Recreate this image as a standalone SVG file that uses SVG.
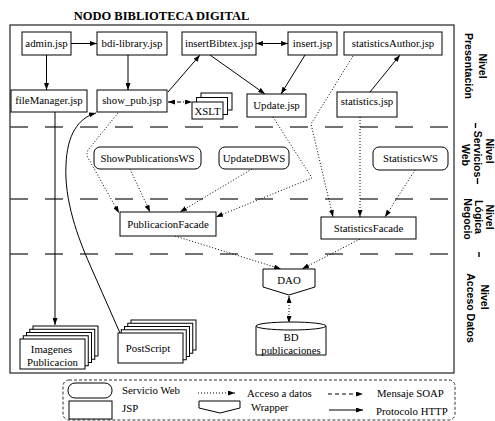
<svg xmlns="http://www.w3.org/2000/svg" width="495" height="421" viewBox="0 0 495 421">
<style>
.n{fill:#fff;stroke:#000;stroke-width:1}
.t{font-family:"Liberation Serif","Times New Roman",serif;font-size:10.8px;fill:#000;text-anchor:middle}
.lt{font-family:"Liberation Serif","Times New Roman",serif;font-size:10.8px;fill:#000}
.lvl{font-family:"Liberation Sans",Arial,sans-serif;font-size:10.5px;font-weight:bold;fill:#000;text-anchor:middle}
.sep{stroke:#444;stroke-width:1.4;stroke-dasharray:18 17;fill:none}
.s{stroke:#000;stroke-width:1;fill:none}
.d{stroke:#000;stroke-width:1;fill:none;stroke-dasharray:1 2}
.a{marker-end:url(#ah)}
.b{marker-start:url(#ah);marker-end:url(#ah)}
</style>
<defs>
<marker id="ah" viewBox="0 0 10 10" refX="10" refY="5" markerWidth="7" markerHeight="5" markerUnits="userSpaceOnUse" orient="auto-start-reverse" preserveAspectRatio="none"><path d="M0,0 L10,5 L0,10 z" fill="#000"/></marker>
</defs>
<rect x="0" y="0" width="495" height="421" fill="#fff"/>
<text x="161.5" y="20" font-family="'Liberation Serif','Times New Roman',serif" font-size="12.5" font-weight="bold" text-anchor="middle">NODO BIBLIOTECA DIGITAL</text>
<rect x="10" y="25" width="444" height="348" fill="none" stroke="#333" stroke-width="1.3"/>
<g id="separators">
<line class="sep" x1="10" y1="127" x2="454" y2="127"/>
<line class="sep" x1="10" y1="199" x2="454" y2="199"/>
<line class="sep" x1="10" y1="254" x2="454" y2="254"/>
</g>
<g id="levels">
<g id="lvl-presentacion">
<text class="lvl" transform="translate(479,66) rotate(90)">Nivel</text>
<text class="lvl" transform="translate(465,66) rotate(90)">Presentación</text>
</g>
<g id="lvl-servicios">
<text class="lvl" transform="translate(485.5,151) rotate(90)">Nivel</text>
<text class="lvl" transform="translate(474,154) rotate(90)">Servicios</text>
<text class="lvl" transform="translate(462,155) rotate(90)">Web</text>
<line x1="475.5" y1="123" x2="475.5" y2="128" stroke="#000" stroke-width="1.4"/>
<line x1="477.5" y1="178" x2="477.5" y2="184" stroke="#000" stroke-width="1.4"/>
</g>
<g id="lvl-logica">
<text class="lvl" transform="translate(486,217) rotate(90)">Nivel</text>
<text class="lvl" transform="translate(475,217) rotate(90)">Lógica</text>
<text class="lvl" transform="translate(464,219) rotate(90)">Negocio</text>
<line x1="479" y1="252" x2="479" y2="257" stroke="#000" stroke-width="1.4"/>
</g>
<g id="lvl-acceso">
<text class="lvl" transform="translate(481,297) rotate(90)">Nivel</text>
<text class="lvl" transform="translate(467,308) rotate(90)">Acceso Datos</text>
</g>
</g>
<g id="connectors">
<line class="s a" x1="71" y1="43.5" x2="97" y2="43.5"/>
<line class="s a" x1="46.5" y1="55" x2="46.5" y2="90"/>
<line class="s a" x1="128" y1="55" x2="128" y2="90"/>
<line class="s a" x1="168" y1="92" x2="200" y2="55"/>
<line class="s a" x1="210" y1="55" x2="265" y2="94"/>
<line class="s b" x1="256" y1="43.5" x2="288" y2="43.5"/>
<line class="s a" x1="305" y1="55" x2="281" y2="94"/>
<line class="s a" x1="370" y1="92" x2="400" y2="55"/>
<line class="s a" x1="55" y1="112" x2="55" y2="325"/>
<path class="s a" d="M120,333 L90,265 C78,238 64,200 66,165 C67,135 78,118 96,113"/>
<line class="b" x1="168" y1="102" x2="192" y2="102" stroke="#000" stroke-width="1" stroke-dasharray="4 2 1 2"/>
<path class="d a" d="M118,113 L88,150 Q86,154 88,158 L119,213"/>
<line class="d a" x1="130" y1="169" x2="150" y2="212"/>
<line class="d a" x1="252" y1="169" x2="180" y2="212"/>
<path class="d a" d="M273,117 L312,178 L216,217"/>
<path class="d a" d="M353,56 L311,124 L333,217"/>
<line class="d a" x1="360" y1="117" x2="360" y2="217"/>
<line class="d a" x1="415" y1="170" x2="385" y2="217"/>
<line class="d a" x1="175" y1="236" x2="281" y2="269"/>
<line class="d a" x1="360" y1="239" x2="302" y2="269"/>
<line class="d b" x1="289" y1="296" x2="289" y2="323"/>
</g>
<g id="admin"><rect class="n" x="22" y="32" width="49" height="23"/><text class="t" x="46.5" y="47">admin.jsp</text></g>
<g id="bdi-library"><rect class="n" x="97" y="32" width="70" height="23"/><text class="t" x="132" y="47">bdi-library.jsp</text></g>
<g id="insertBibtex"><rect class="n" x="182" y="32" width="74" height="23"/><text class="t" x="219" y="47">insertBibtex.jsp</text></g>
<g id="insert"><rect class="n" x="288" y="32" width="49" height="23"/><text class="t" x="312.5" y="47">insert.jsp</text></g>
<g id="statisticsAuthor"><rect class="n" x="344" y="32" width="98" height="23"/><text class="t" x="393" y="47">statisticsAuthor.jsp</text></g>
<g id="fileManager"><rect class="n" x="11" y="90" width="76" height="22"/><text class="t" x="49" y="104">fileManager.jsp</text></g>
<g id="show_pub"><rect class="n" x="97" y="90" width="70" height="22"/><text class="t" x="132" y="104">show_pub.jsp</text></g>
<g id="XSLT">
<rect class="n" x="201" y="93" width="31" height="17"/>
<rect class="n" x="196.5" y="97.5" width="31" height="17"/>
<rect class="n" x="192" y="102" width="31" height="17"/>
<text class="t" x="207.5" y="115">XSLT</text>
</g>
<g id="Update"><rect class="n" x="247" y="94" width="59" height="23"/><text class="t" x="276.5" y="109">Update.jsp</text></g>
<g id="statistics"><rect class="n" x="337" y="92" width="60" height="25"/><text class="t" x="367" y="105">statistics.jsp</text></g>
<g id="ShowPublicationsWS"><rect class="n" x="94" y="147" width="107" height="22" rx="6"/><text class="t" x="147.5" y="162">ShowPublicationsWS</text></g>
<g id="UpdateDBWS"><rect class="n" x="219" y="147" width="70" height="22" rx="6"/><text class="t" x="254" y="162">UpdateDBWS</text></g>
<g id="StatisticsWS"><rect class="n" x="373" y="147" width="75" height="23" rx="6"/><text class="t" x="410.5" y="162">StatisticsWS</text></g>
<g id="PublicacionFacade"><rect class="n" x="120" y="212" width="96" height="24"/><text class="t" x="168" y="228">PublicacionFacade</text></g>
<g id="StatisticsFacade"><rect class="n" x="321" y="217" width="95" height="22"/><text class="t" x="368.5" y="232">StatisticsFacade</text></g>
<g id="DAO"><polygon class="n" points="263,269 315,269 315,287 289,295 263,287"/><text class="t" x="289" y="284">DAO</text></g>
<g id="BD">
<path class="n" d="M256,326 L256,355 L326,355 L326,326"/>
<ellipse class="n" cx="291" cy="326" rx="35" ry="4"/>
<text class="t" x="291" y="341">BD</text>
<text class="t" x="291" y="353.5">publicaciones</text>
</g>
<g id="Imagenes">
<rect class="n" x="33" y="326" width="65" height="30"/>
<rect class="n" x="29.75" y="329.25" width="65" height="30"/>
<rect class="n" x="26.5" y="332.5" width="65" height="30"/>
<rect class="n" x="23.25" y="335.75" width="65" height="30"/>
<rect class="n" x="20" y="339" width="65" height="30"/>
<text class="t" x="51.5" y="353">Imagenes</text>
<text class="t" x="52.5" y="366">Publicacion</text>
</g>
<g id="PostScript">
<rect class="n" x="131" y="320" width="65" height="30"/>
<rect class="n" x="127.75" y="323.25" width="65" height="30"/>
<rect class="n" x="124.5" y="326.5" width="65" height="30"/>
<rect class="n" x="121.25" y="329.75" width="65" height="30"/>
<rect class="n" x="118" y="333" width="65" height="30"/>
<text class="t" x="148" y="352">PostScript</text>
</g>
<g id="legend">
<rect x="63" y="380" width="392" height="40" rx="6" fill="none" stroke="#333" stroke-width="1" stroke-dasharray="3 2"/>
<rect class="n" x="68" y="383" width="44" height="15" rx="7"/>
<text class="lt" x="122" y="394">Servicio Web</text>
<rect class="n" x="69" y="401" width="43" height="18"/>
<text class="lt" x="122" y="412">JSP</text>
<line class="d a" x1="198" y1="393" x2="235" y2="393"/>
<text class="lt" x="247" y="397">Acceso a datos</text>
<polygon class="n" points="199,401 240,401 240,408 220,413 199,408"/>
<text class="lt" x="251" y="411">Wrapper</text>
<line class="s a" x1="328" y1="394" x2="363" y2="394" stroke-dasharray="4 3"/>
<text class="lt" x="377" y="397">Mensaje SOAP</text>
<line class="s a" x1="329" y1="410" x2="363" y2="410"/>
<text class="lt" x="376" y="415">Protocolo HTTP</text>
</g>
</svg>
